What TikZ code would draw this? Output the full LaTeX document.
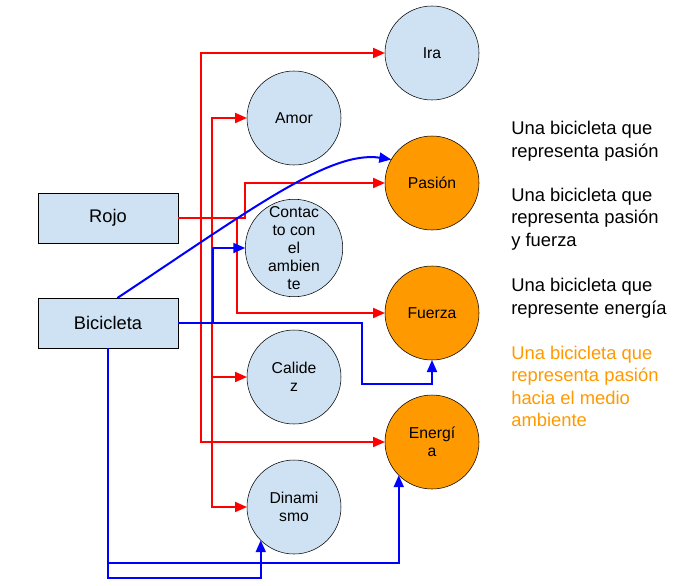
\documentclass[tikz,border=0pt]{standalone}
\usepackage{fontspec}
\setmainfont{Liberation Sans}
\usetikzlibrary{arrows.meta}
\definecolor{celeste}{HTML}{CFE2F3}
\definecolor{naranja}{HTML}{FF9900}
\definecolor{rojo}{HTML}{FF0000}
\definecolor{azul}{HTML}{0000FF}

\begin{document}
\begin{tikzpicture}[x=0.75pt,y=-0.75pt]
	\useasboundingbox (0,0) rectangle (698,585);
	\begin{scope}[every node/.style={circle,draw, fill=celeste, minimum size=70.5pt, inner sep=0pt, outer sep=0pt, align=center, font=\fontsize{11.8}{13.4}\selectfont}]
		\node (ira) at (432,53) {Ira};
		\node (amor) at (294,118) {Amor};
		\node[fill=naranja] (pasion) at (432,183) {Pasión};
		\node (contacto) at (294,248) {Contac\\to con\\el\\ambien\\te};
		\node[fill=naranja] (fuerza) at (432,313) {Fuerza};
		\node (calidez) at (294,377) {Calide\\z};
		\node[fill=naranja] (energia) at (432,442) {Energí\\a};
		\node (dinamismo) at (294,507) {Dinami\\smo};
	\end{scope}

	\begin{scope}[every node/.style={rectangle,draw, fill=celeste, minimum width=105pt, minimum height=37.5pt, outer sep=0pt, font=\fontsize{13.7}{16}\selectfont}]
		\node (rojo) at (108,218) {Rojo};
		\node (bicicleta) at (108,323) {Bicicleta};
	\end{scope}

	\begin{scope}[every node/.style={anchor=west, inner sep=0pt, align=left, font=\fontsize{13.8}{16.9}\selectfont}]
		\node (idea1) at (511,141.5) {Una bicicleta que\\representa pasión};
		\node (idea2) at (511,219) {Una bicicleta que\\representa pasión\\y fuerza};
		\node (idea3) at (511,298) {Una bicicleta que\\represente energía};
		\node[text=naranja] (idea4) at (511,386.5) {Una bicicleta que\\representa pasión\\hacia el medio\\ambiente};
	\end{scope}

	\begin{scope}[>={Triangle[length=9pt,width=7.5pt]}, line width=1.5pt, rojo]
		\draw[->] (rojo.east) -- ++(23,0) |- (ira.west);
		\draw[->] (rojo.east) -- ++(34,0) |- (amor.west);
		\draw[->] (rojo.east) -- ++(67,0) |- (pasion.west);
		\draw[->] (rojo.east) -- ++(59,0) |- (fuerza.west);
		\draw[->] (rojo.east) -- ++(34,0) |- (calidez.west);
		\draw[->] (rojo.east) -- ++(23,0) |- (energia.west);
		\draw[->] (rojo.east) -- ++(34,0) |- (dinamismo.west);
	\end{scope}

	\begin{scope}[>={Triangle[length=9pt,width=7.5pt]}, line width=1.5pt, azul]
		\draw[->] ([xshift=7pt]bicicleta.north) .. controls (250,210) and (330,150) .. (pasion.150);
		\draw[->] (bicicleta.east) -- ++(35,0) |- (contacto.west);
		\draw[->] (bicicleta.east) -- ++(184,0) -- ++(0,61) -| (fuerza.south);
		\draw[->] (bicicleta.south) -- ++(0,215) -| (energia.south west);
		\draw[->] (bicicleta.south) -- ++(0,230) -| (dinamismo.south west);
	\end{scope}
\end{tikzpicture}
\end{document}
